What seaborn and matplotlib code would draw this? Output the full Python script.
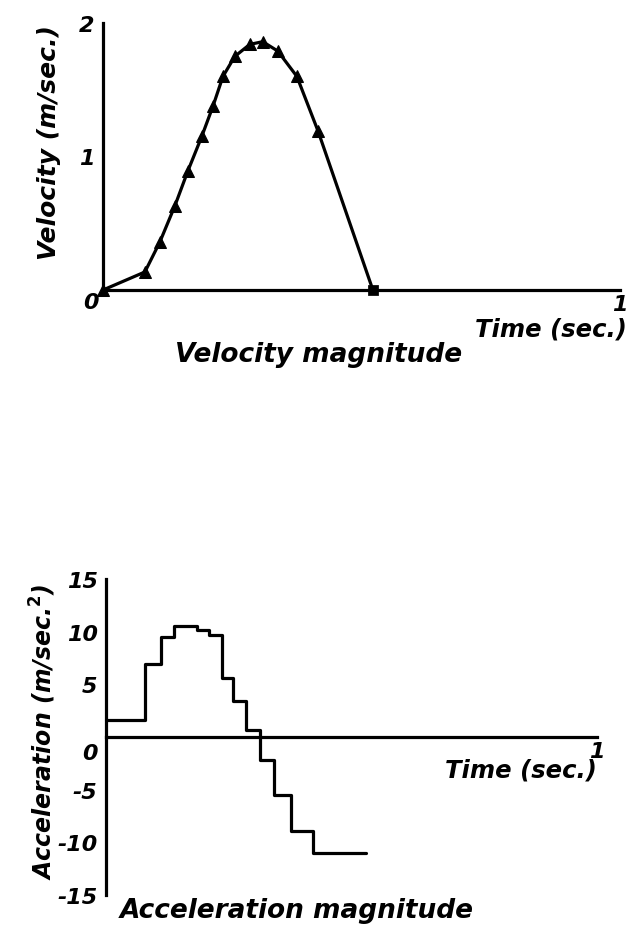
import matplotlib
matplotlib.use("Agg")
import matplotlib.pyplot as plt
import seaborn as sns
import pandas as pd

# ---- data ----
vel_time = [0.0, 0.081, 0.110, 0.139, 0.164, 0.191, 0.213, 0.232, 0.255, 0.284, 0.309, 0.338, 0.375, 0.416, 0.522]
vel_value = [0.0, 0.135, 0.36, 0.63, 0.89, 1.15, 1.38, 1.60, 1.75, 1.84, 1.86, 1.79, 1.60, 1.19, 0.0]

acc_edges = [0.0, 0.080, 0.112, 0.139, 0.186, 0.210, 0.236, 0.259, 0.285, 0.313, 0.343, 0.377, 0.422, 0.529]
acc_value = [1.6, 6.9, 9.5, 10.5, 10.2, 9.7, 5.6, 3.4, 0.7, -2.2, -5.5, -8.9, -11.0]

vel_yticks = [0, 1, 2]
acc_yticks = [-15, -10, -5, 0, 5, 10, 15]
x_ticks = [1]

sns.set_style("white")
plt.rcParams['font.family'] = ['DejaVu Sans']
for k in ['text.color', 'axes.labelcolor', 'xtick.color', 'ytick.color', 'axes.edgecolor']:
    plt.rcParams[k] = 'black'

W, H = 629, 937
fig = plt.figure(figsize=(W / 100, H / 100), dpi=100)
FONT = dict(family='DejaVu Sans', weight='bold', style='italic', color='black')
LW = 2.3
TICK_FS = 16

def style_axes(ax, yticks):
    sns.despine(ax=ax)
    for s in ['left', 'bottom']:
        ax.spines[s].set_linewidth(LW)
        ax.spines[s].set_color('black')
    ax.spines['bottom'].set_position(('data', 0))
    ax.spines['bottom'].set_bounds(0, 1)
    ax.set_xticks(x_ticks)
    ax.set_xticklabels([str(v) for v in x_ticks], fontdict=dict(FONT, size=TICK_FS))
    ax.set_yticks(yticks)
    ax.set_yticklabels(['' if v == 0 else str(v) for v in yticks], fontdict=dict(FONT, size=TICK_FS))
    ax.tick_params(axis='both', direction='in', length=6, width=LW, color='black')
    ax.tick_params(axis='y', pad=6)
    ax.tick_params(axis='x', pad=3)
    ax.set_xlabel('')
    ax.set_ylabel('')
    ax.grid(False)

# ---- velocity ----
ax1 = fig.add_axes([103 / W, 1 - 291 / H, 517 / W, 267 / H])
df_v = pd.DataFrame({'t': vel_time, 'v': vel_value})
sns.lineplot(data=df_v, x='t', y='v', ax=ax1, color='black', lw=LW, sort=False,
             estimator=None, marker='^', markersize=8.5, markeredgecolor='black',
             markevery=list(range(len(vel_time) - 1)), clip_on=False)
sns.scatterplot(data=df_v.iloc[[-1]], x='t', y='v', ax=ax1, marker='s', s=45,
                color='black', edgecolor='black', clip_on=False, zorder=5)
ax1.set_xlim(0, 1)
ax1.set_ylim(0, 2)
style_axes(ax1, vel_yticks)
ax1.annotate('0', xy=(0, 0), xycoords='data', xytext=(-12, -12), textcoords='offset pixels',
             ha='center', va='center', fontsize=TICK_FS, **FONT)
ax1.annotate('Time (sec.)', xy=(1, 0), xycoords='data', xytext=(7, -39), textcoords='offset pixels',
             ha='right', va='center', fontsize=17.5, **FONT)

# ---- acceleration ----
ax2 = fig.add_axes([106 / W, 1 - 896 / H, 491 / W, 316 / H])
df_a = pd.DataFrame({'t': acc_edges, 'a': acc_value + [acc_value[-1]]})
sns.lineplot(data=df_a, x='t', y='a', ax=ax2, color='black', lw=LW, sort=False,
             estimator=None, drawstyle='steps-post', clip_on=False)
ax2.set_xlim(0, 1)
ax2.set_ylim(-15, 15)
style_axes(ax2, acc_yticks)
ax2.annotate('0', xy=(0, 0), xycoords='data', xytext=(-16, -16), textcoords='offset pixels',
             ha='center', va='center', fontsize=TICK_FS, **FONT)
ax2.annotate('Time (sec.)', xy=(1, 0), xycoords='data', xytext=(0, -33), textcoords='offset pixels',
             ha='right', va='center', fontsize=17.5, **FONT)

# ---- axis titles ----
fig.text(49 / W, 1 - 143 / H, 'Velocity (m/sec.)', rotation=90, ha='center', va='center',
         fontsize=18, **FONT)
fig.text(43 / W, 1 - 732 / H, 'Acceleration (m/sec.$^{\\mathbf{2}}$)', rotation=90, ha='center',
         va='center', fontsize=17, **FONT)

fig.text(175 / W, 1 - 362 / H, 'Velocity magnitude', ha='left', va='baseline', fontsize=19, **FONT)
fig.text(120 / W, 1 - 918 / H, 'Acceleration magnitude', ha='left', va='baseline', fontsize=19, **FONT)

fig.savefig('out.png', dpi=100)
